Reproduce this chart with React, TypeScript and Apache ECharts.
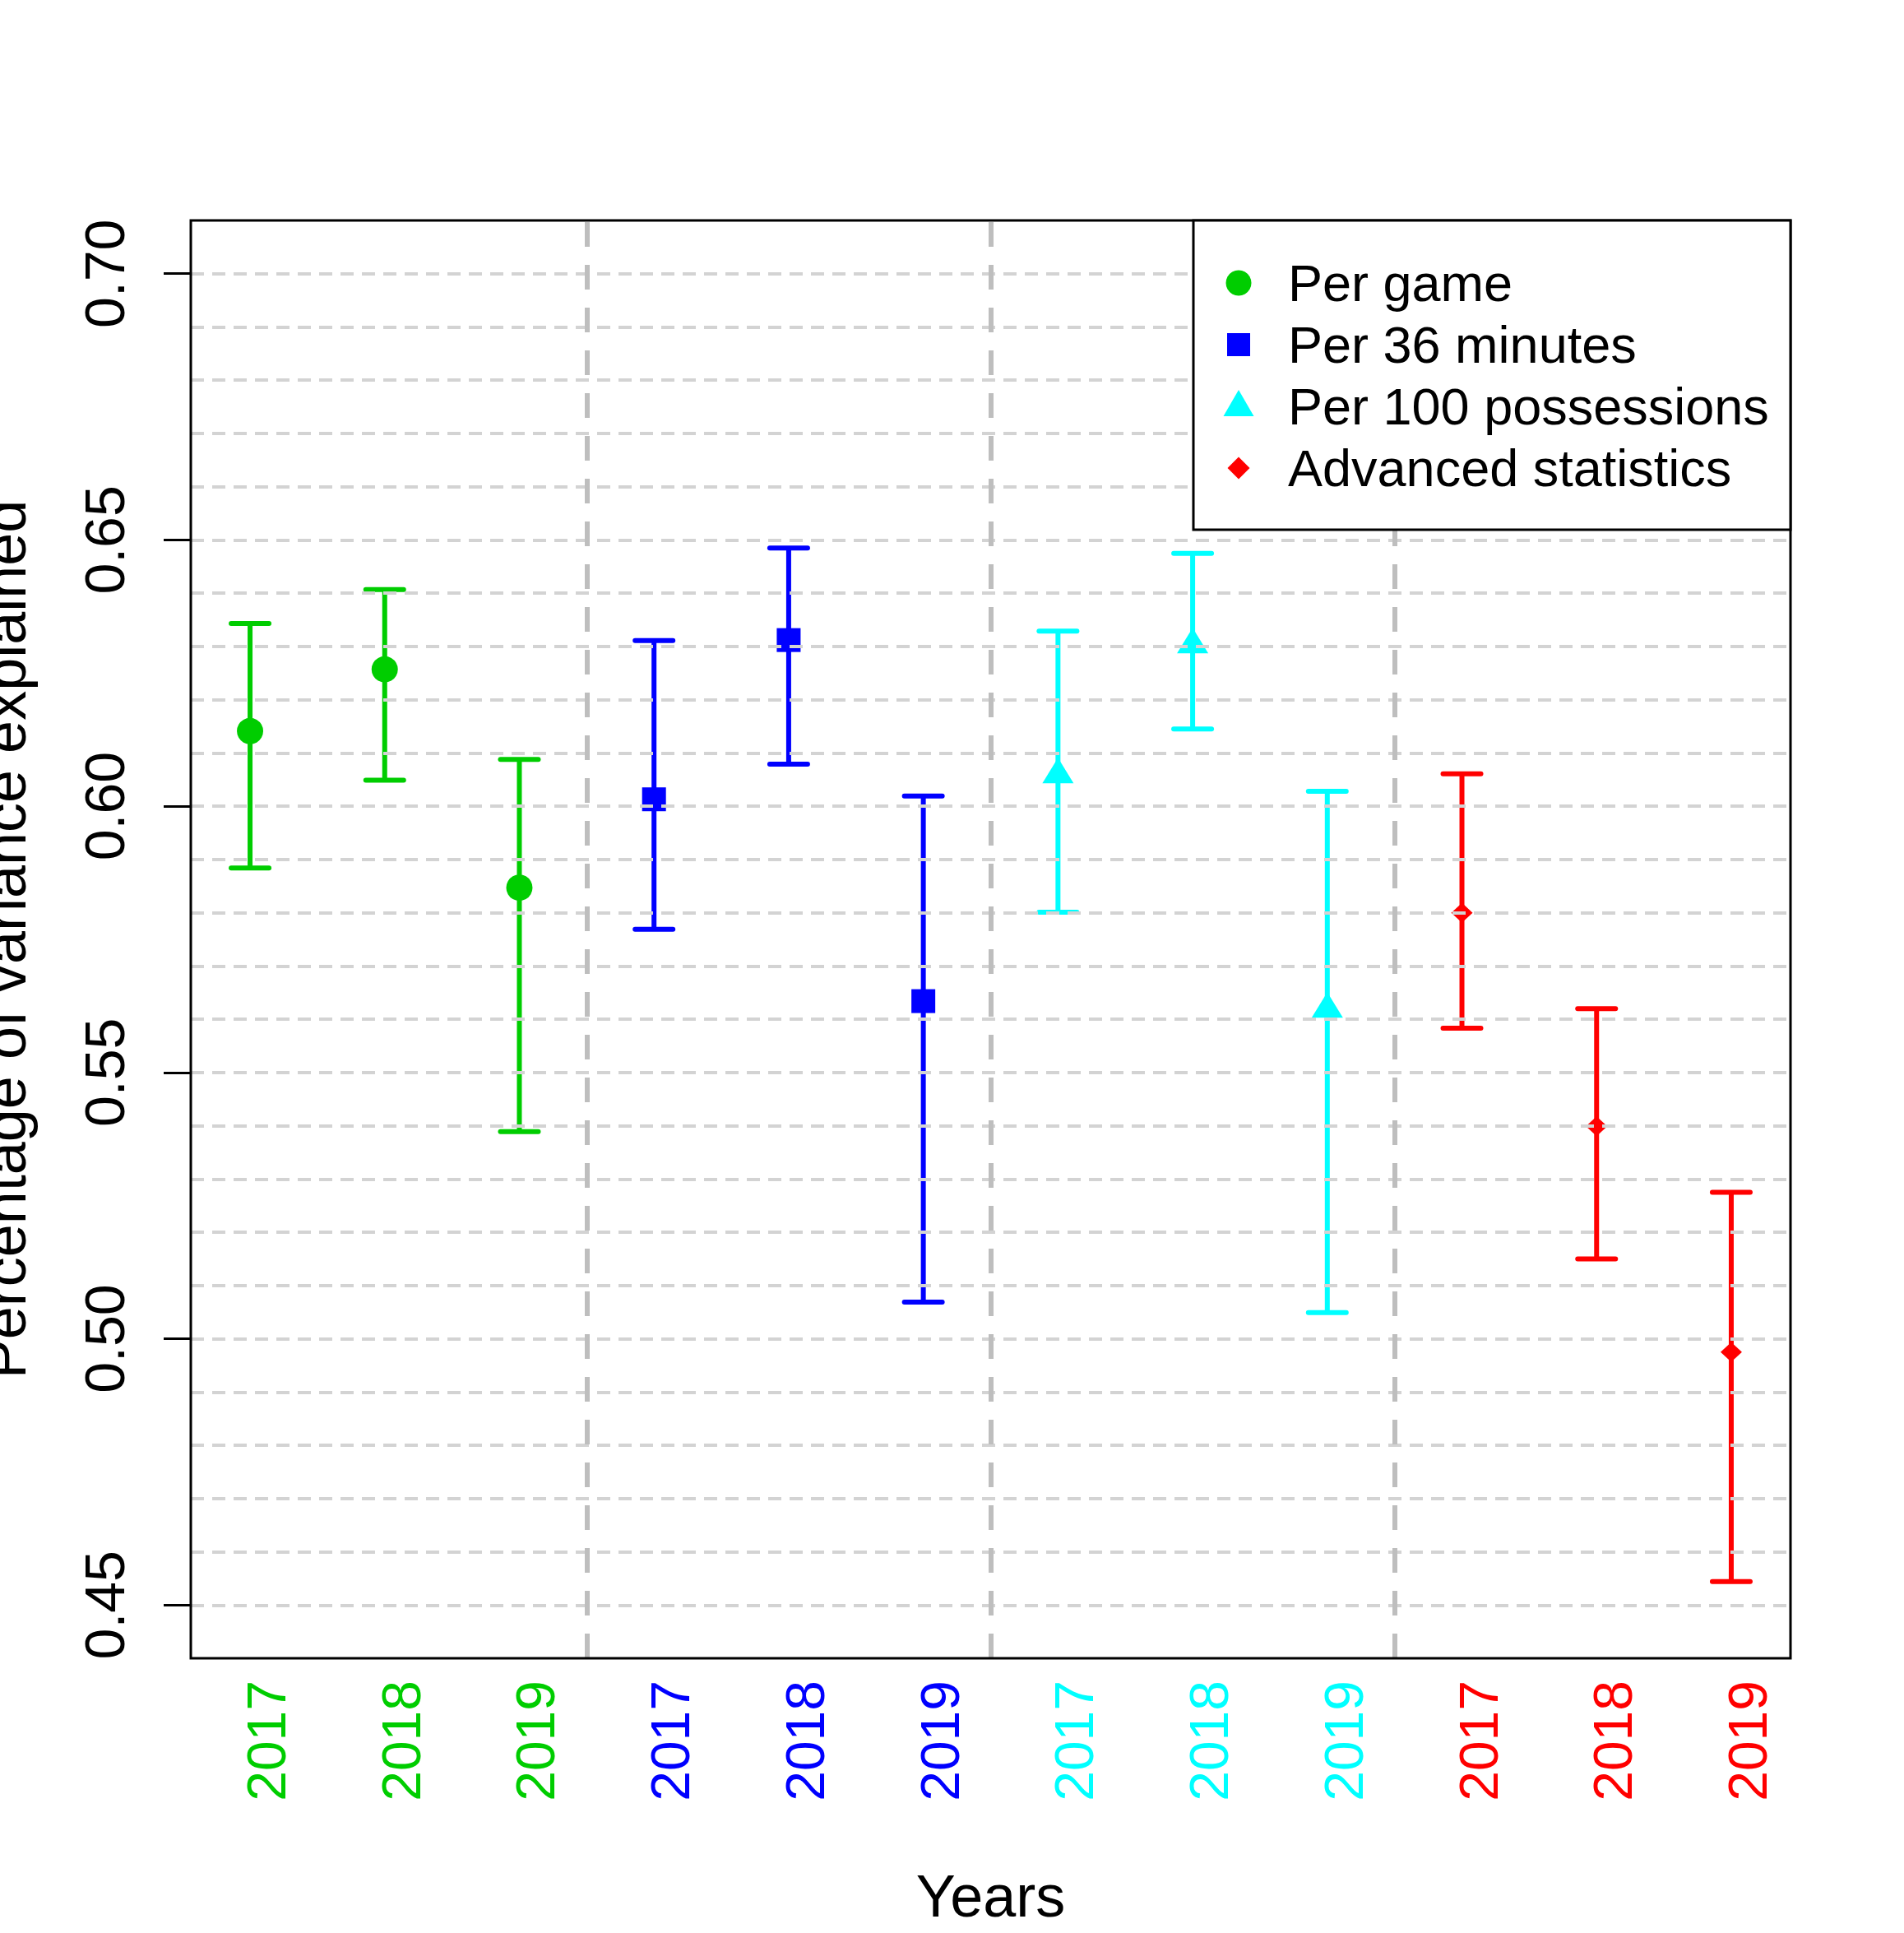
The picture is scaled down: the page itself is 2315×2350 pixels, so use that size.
import React, { useEffect, useRef } from 'react';
import * as echarts from 'echarts';

const FONT = '"Liberation Sans", Arial, Helvetica, sans-serif';

// categories (x positions 1..12) and tick labels
const xTicks = [1, 2, 3, 4, 5, 6, 7, 8, 9, 10, 11, 12];
const xLabels = ['2017', '2018', '2019', '2017', '2018', '2019', '2017', '2018', '2019', '2017', '2018', '2019'];
const yTicks = [0.45, 0.5, 0.55, 0.6, 0.65, 0.7];
const separators = [3.5, 6.5, 9.5];

const groupNames = ['Per game', 'Per 36 minutes', 'Per 100 possessions', 'Advanced statistics'];
const groupColors = ['#00CD00', '#0000FF', '#00FFFF', '#FF0000'];
const groupSymbols = ['circle', 'rect', 'triangle', 'diamond'];
const groupSymbolSizes: any[] = [32, 29, [38, 31], [26, 24]];

// values per group (2017, 2018, 2019)
const perGameMean = [0.6141, 0.6257, 0.5847];
const perGameLower = [0.5884, 0.6049, 0.5389];
const perGameUpper = [0.6343, 0.6407, 0.6088];

const per36Mean = [0.6013, 0.6312, 0.5634];
const per36Lower = [0.5769, 0.6079, 0.5069];
const per36Upper = [0.6311, 0.6485, 0.6019];

const per100Mean = [0.6067, 0.6311, 0.5627];
const per100Lower = [0.5801, 0.6145, 0.5049];
const per100Upper = [0.6329, 0.6475, 0.6028];

const advMean = [0.58, 0.5399, 0.4975];
const advLower = [0.5583, 0.515, 0.4544];
const advUpper = [0.6061, 0.562, 0.5275];

const means = [perGameMean, per36Mean, per100Mean, advMean];
const lowers = [perGameLower, per36Lower, per100Lower, advLower];
const uppers = [perGameUpper, per36Upper, per100Upper, advUpper];

// layout
const GRID = { left: 232, top: 268, width: 1945, height: 1748 };

function buildOption(): any {
  const series: any[] = [];
  groupNames.forEach((name, g) => {
    const color = groupColors[g];
    const barData = means[g].map((_, j) => [g * 3 + j + 1, lowers[g][j], uppers[g][j]]);
    const ptData = means[g].map((m, j) => [g * 3 + j + 1, m]);
    series.push({
      type: 'custom',
      name: name + ' CI',
      z: 2,
      silent: true,
      encode: { x: 0, y: [1, 2] },
      data: barData,
      renderItem: (params: any, api: any) => {
        const x = api.value(0);
        const lo = api.coord([x, api.value(1)]);
        const hi = api.coord([x, api.value(2)]);
        const cap = 23;
        const vStyle = { stroke: color, lineWidth: 6, lineCap: 'butt' };
        const cStyle = { stroke: color, lineWidth: 6, lineCap: 'round' };
        return {
          type: 'group',
          children: [
            { type: 'line', shape: { x1: lo[0], y1: lo[1], x2: hi[0], y2: hi[1] }, style: vStyle },
            { type: 'line', shape: { x1: lo[0] - cap, y1: lo[1], x2: lo[0] + cap, y2: lo[1] }, style: cStyle },
            { type: 'line', shape: { x1: hi[0] - cap, y1: hi[1], x2: hi[0] + cap, y2: hi[1] }, style: cStyle },
          ],
        };
      },
    });
    const sc: any = {
      type: 'scatter',
      name,
      z: 3,
      silent: true,
      symbol: groupSymbols[g],
      symbolSize: groupSymbolSizes[g],
      itemStyle: { color, opacity: 1 },
      data: ptData,
    };
    if (g === 0) {
      sc.markLine = {
        silent: true,
        symbol: 'none',
        label: { show: false },
        lineStyle: { color: '#BEBEBE', width: 6, type: [30, 22] },
        data: separators.map((v) => ({ xAxis: v })),
      };
    }
    series.push(sc);
  });

  const legendX = 1451;
  const legendY = 268;
  const legendW = 726;
  const legendH = 376;
  const symX = 1506;
  const rowY = [344, 419, 494, 569];
  const textX = 1566;

  const graphic: any[] = [
    {
      type: 'rect',
      z: 100,
      silent: true,
      shape: { x: GRID.left, y: GRID.top, width: GRID.width, height: GRID.height },
      style: { fill: 'none', stroke: '#000', lineWidth: 3 },
    },
    {
      type: 'rect',
      z: 101,
      silent: true,
      shape: { x: legendX, y: legendY, width: legendW, height: legendH },
      style: { fill: '#fff', stroke: '#000', lineWidth: 3 },
    },
    {
      type: 'circle',
      z: 102,
      silent: true,
      shape: { cx: symX, cy: rowY[0], r: 15.5 },
      style: { fill: groupColors[0] },
    },
    {
      type: 'rect',
      z: 102,
      silent: true,
      shape: { x: symX - 14, y: rowY[1] - 14, width: 28, height: 28 },
      style: { fill: groupColors[1] },
    },
    {
      type: 'polygon',
      z: 102,
      silent: true,
      shape: { points: [[symX, rowY[2] - 20], [symX - 18.5, rowY[2] + 12], [symX + 18.5, rowY[2] + 12]] },
      style: { fill: groupColors[2] },
    },
    {
      type: 'polygon',
      z: 102,
      silent: true,
      shape: { points: [[symX, rowY[3] - 13.5], [symX + 13.5, rowY[3]], [symX, rowY[3] + 13.5], [symX - 13.5, rowY[3]]] },
      style: { fill: groupColors[3] },
    },
  ];
  groupNames.forEach((name, g) => {
    graphic.push({
      type: 'text',
      z: 102,
      silent: true,
      style: {
        text: name,
        x: textX,
        y: rowY[g],
        fill: '#000',
        font: `63px ${FONT}`,
        verticalAlign: 'middle',
        align: 'left',
      },
    });
  });

  return {
    animation: false,
    backgroundColor: '#fff',
    grid: { ...GRID, containLabel: false, outerBoundsMode: 'none' },
    xAxis: {
      type: 'value',
      min: 0.56,
      max: 12.44,
      axisLine: { show: false },
      axisTick: { show: false },
      splitLine: { show: false },
      axisLabel: {
        customValues: xTicks,
        rotate: 90,
        margin: 27,
        fontSize: 66,
        lineHeight: 40,
        verticalAlign: 'top',
        fontFamily: FONT,
        formatter: (v: number) => xLabels[Math.round(Number(v)) - 1] || '',
        color: (v: any) => groupColors[Math.floor((Math.round(Number(v)) - 1) / 3)] || '#000',
      },
      name: 'Years',
      nameLocation: 'middle',
      nameGap: 253,
      nameTextStyle: { fontSize: 72, color: '#000', fontFamily: FONT },
    },
    yAxis: [
      {
        type: 'value',
        min: 0.44,
        max: 0.71,
        interval: 0.01,
        z: 5,
        position: 'left',
        axisLine: { show: false },
        axisTick: { show: false },
        axisLabel: { show: false },
        splitLine: {
          show: true,
          showMinLine: false,
          showMaxLine: false,
          lineStyle: { color: '#D3D3D3', width: 4, type: [16, 10] },
        },
      },
      {
        type: 'value',
        min: 0.44,
        max: 0.71,
        position: 'left',
        axisLine: { show: false },
        splitLine: { show: false },
        axisTick: {
          show: true,
          customValues: yTicks,
          length: 33,
          inside: false,
          lineStyle: { color: '#000', width: 3 },
        },
        axisLabel: {
          customValues: yTicks,
          rotate: 90,
          margin: 71,
          fontSize: 68,
          fontFamily: FONT,
          color: '#000',
          formatter: (v: number) => Number(v).toFixed(2),
        },
        name: 'Percentage of variance explained',
        nameLocation: 'middle',
        nameGap: 190,
        nameRotate: 90,
        nameTextStyle: { fontSize: 72, color: '#000', fontFamily: FONT },
      },
    ],
    series,
    graphic,
  };
}

export default function App() {
  const ref = useRef<HTMLDivElement>(null);
  useEffect(() => {
    document.body.style.margin = '0';
    document.body.style.overflow = 'hidden';
    if (!ref.current) return;
    const chart = echarts.init(ref.current, undefined, { renderer: 'svg' });
    chart.setOption(buildOption());
    return () => chart.dispose();
  }, []);
  return <div ref={ref} style={{ width: 2315, height: 2350 }} />;
}
